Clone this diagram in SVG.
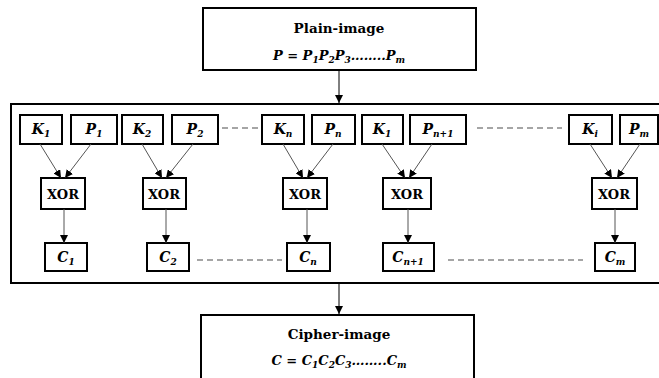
<svg xmlns="http://www.w3.org/2000/svg" width="659" height="378" viewBox="0 0 659 378" font-family="'DejaVu Serif', 'Liberation Serif', serif">
<style>
.b{fill:#fff;stroke:#000;stroke-width:2}
text{fill:#000;text-anchor:middle;font-weight:bold}
.t{font-style:italic;font-size:14px}
.e{font-style:italic;font-size:13px}
.h{font-size:13.5px}
.x{font-size:13px}
.s{font-size:9px}
.c{stroke:#555;stroke-width:1;fill:none;marker-end:url(#ah)}
.m{stroke:#000;stroke-width:1;fill:none;marker-end:url(#ah)}
.d{stroke:#888;stroke-width:1.5;stroke-dasharray:6 4;fill:none}
</style>
<defs>
<marker id="ah" markerUnits="userSpaceOnUse" markerWidth="8" markerHeight="8" refX="8" refY="4" orient="auto">
<path d="M0,0 L8,4 L0,8 z" fill="#000"/>
</marker>
</defs>
<rect width="659" height="378" fill="#fff"/>

<g id="plain">
<rect class="b" x="203" y="8" width="273" height="62"/>
<text class="h" x="339" y="33">Plain-image</text>
<text class="e" x="339" y="60">P = P<tspan class="s" dy="3">1</tspan><tspan dy="-3">P</tspan><tspan class="s" dy="3">2</tspan><tspan dy="-3">P</tspan><tspan class="s" dy="3">3</tspan><tspan dy="-3">……..P</tspan><tspan class="s" dy="3">m</tspan></text>
</g>

<g id="process">
<rect class="b" x="11" y="104" width="652" height="179"/>
</g>

<g id="cipher">
<rect class="b" x="201" y="315" width="273" height="70"/>
<text class="h" x="339" y="339">Cipher-image</text>
<text class="e" x="339" y="365">C = C<tspan class="s" dy="3">1</tspan><tspan dy="-3">C</tspan><tspan class="s" dy="3">2</tspan><tspan dy="-3">C</tspan><tspan class="s" dy="3">3</tspan><tspan dy="-3">……..C</tspan><tspan class="s" dy="3">m</tspan></text>
</g>

<g id="k1"><rect class="b" x="20" y="115" width="42" height="29"/><text class="t" x="41" y="134">K<tspan class="s" dy="3">1</tspan></text></g>
<g id="p1"><rect class="b" x="71" y="115" width="46" height="29"/><text class="t" x="94" y="134">P<tspan class="s" dy="3">1</tspan></text></g>
<g id="k2"><rect class="b" x="122" y="115" width="41" height="29"/><text class="t" x="142" y="134">K<tspan class="s" dy="3">2</tspan></text></g>
<g id="p2"><rect class="b" x="172" y="115" width="46" height="29"/><text class="t" x="195" y="134">P<tspan class="s" dy="3">2</tspan></text></g>
<g id="kn"><rect class="b" x="262" y="115" width="42" height="29"/><text class="t" x="283" y="134">K<tspan class="s" dy="3">n</tspan></text></g>
<g id="pn"><rect class="b" x="312" y="115" width="43" height="29"/><text class="t" x="333" y="134">P<tspan class="s" dy="3">n</tspan></text></g>
<g id="k1b"><rect class="b" x="362" y="115" width="41" height="29"/><text class="t" x="382" y="134">K<tspan class="s" dy="3">1</tspan></text></g>
<g id="pn1"><rect class="b" x="410" y="115" width="56" height="29"/><text class="t" x="438" y="134">P<tspan class="s" dy="3">n+1</tspan></text></g>
<g id="ki"><rect class="b" x="569" y="115" width="43" height="29"/><text class="t" x="590" y="134">K<tspan class="s" dy="3">i</tspan></text></g>
<g id="pm"><rect class="b" x="620" y="115" width="38" height="29"/><text class="t" x="639" y="134">P<tspan class="s" dy="3">m</tspan></text></g>

<g id="xor1"><rect class="b" x="41" y="178" width="44" height="31"/><text class="x" x="63" y="199">XOR</text></g>
<g id="xor2"><rect class="b" x="143" y="178" width="43" height="31"/><text class="x" x="164" y="199">XOR</text></g>
<g id="xorn"><rect class="b" x="283" y="178" width="44" height="31"/><text class="x" x="305" y="199">XOR</text></g>
<g id="xorn1"><rect class="b" x="383" y="178" width="48" height="31"/><text class="x" x="407" y="199">XOR</text></g>
<g id="xorm"><rect class="b" x="592" y="178" width="45" height="31"/><text class="x" x="614" y="199">XOR</text></g>

<g id="c1"><rect class="b" x="45" y="243" width="42" height="28"/><text class="t" x="66" y="262">C<tspan class="s" dy="3">1</tspan></text></g>
<g id="c2"><rect class="b" x="147" y="243" width="42" height="28"/><text class="t" x="168" y="262">C<tspan class="s" dy="3">2</tspan></text></g>
<g id="cn"><rect class="b" x="287" y="243" width="43" height="28"/><text class="t" x="308" y="262">C<tspan class="s" dy="3">n</tspan></text></g>
<g id="cn1"><rect class="b" x="383" y="243" width="51" height="28"/><text class="t" x="408" y="262">C<tspan class="s" dy="3">n+1</tspan></text></g>
<g id="cm"><rect class="b" x="595" y="243" width="40" height="28"/><text class="t" x="615" y="262">C<tspan class="s" dy="3">m</tspan></text></g>

<g id="connectors">
<line class="m" x1="339" y1="71" x2="339" y2="103"/>
<line class="m" x1="339" y1="284" x2="339" y2="314"/>
<line class="c" x1="40" y1="144" x2="61" y2="178"/>
<line class="c" x1="91" y1="144" x2="65" y2="178"/>
<line class="c" x1="142" y1="144" x2="162" y2="178"/>
<line class="c" x1="193" y1="144" x2="166" y2="178"/>
<line class="c" x1="283" y1="144" x2="303" y2="178"/>
<line class="c" x1="333" y1="144" x2="307" y2="178"/>
<line class="c" x1="382" y1="144" x2="405" y2="178"/>
<line class="c" x1="432" y1="144" x2="409" y2="178"/>
<line class="c" x1="590" y1="144" x2="612" y2="178"/>
<line class="c" x1="640" y1="144" x2="617" y2="178"/>
<line class="c" x1="64" y1="209" x2="64" y2="243"/>
<line class="c" x1="166" y1="209" x2="166" y2="243"/>
<line class="c" x1="307" y1="209" x2="307" y2="243"/>
<line class="c" x1="408" y1="209" x2="408" y2="243"/>
<line class="c" x1="615" y1="209" x2="615" y2="243"/>
<line class="d" x1="222" y1="128" x2="258" y2="128"/>
<line class="d" x1="477" y1="128" x2="562" y2="128"/>
<line class="d" x1="197" y1="260" x2="282" y2="260"/>
<line class="d" x1="448" y1="260" x2="583" y2="260"/>
</g>
</svg>
